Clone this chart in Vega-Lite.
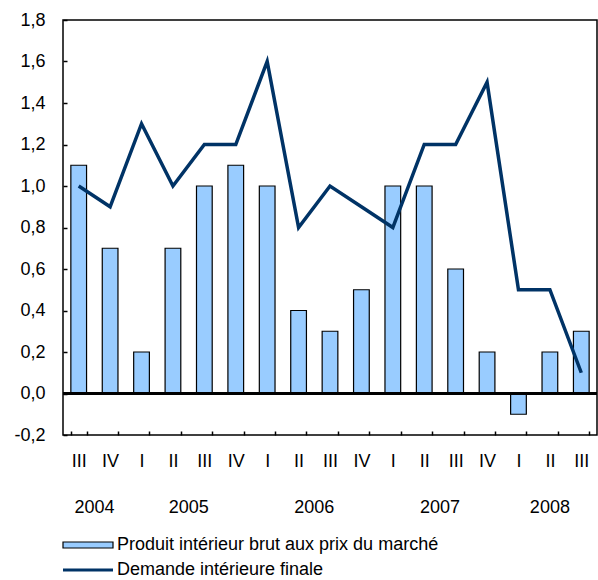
{
  "$schema": "https://vega.github.io/schema/vega-lite/v6.json",
  "autosize": {"type": "none"},
  "width": 534,
  "height": 415,
  "padding": {"left": 63, "top": 20, "right": 1, "bottom": 145},
  "config": {
    "font": "Liberation Sans",
    "view": {"stroke": "#000000", "strokeWidth": 1.5},
    "axis": {"grid": false, "domain": false, "labelFont": "Liberation Sans", "labelFontSize": 18, "labelColor": "#000000", "tickColor": "#000000", "title": null},
    "legend": {"labelFont": "Liberation Sans", "labelFontSize": 18, "labelColor": "#000000", "labelLimit": 0}
  },
  "data": {
    "values": [
      {"p": "2004 III", "gdp": 1.1, "dem": 1.0},
      {"p": "2004 IV", "gdp": 0.7, "dem": 0.9},
      {"p": "2005 I", "gdp": 0.2, "dem": 1.3},
      {"p": "2005 II", "gdp": 0.7, "dem": 1.0},
      {"p": "2005 III", "gdp": 1.0, "dem": 1.2},
      {"p": "2005 IV", "gdp": 1.1, "dem": 1.2},
      {"p": "2006 I", "gdp": 1.0, "dem": 1.6},
      {"p": "2006 II", "gdp": 0.4, "dem": 0.8},
      {"p": "2006 III", "gdp": 0.3, "dem": 1.0},
      {"p": "2006 IV", "gdp": 0.5, "dem": 0.9},
      {"p": "2007 I", "gdp": 1.0, "dem": 0.8},
      {"p": "2007 II", "gdp": 1.0, "dem": 1.2},
      {"p": "2007 III", "gdp": 0.6, "dem": 1.2},
      {"p": "2007 IV", "gdp": 0.2, "dem": 1.5},
      {"p": "2008 I", "gdp": -0.1, "dem": 0.5},
      {"p": "2008 II", "gdp": 0.2, "dem": 0.5},
      {"p": "2008 III", "gdp": 0.3, "dem": 0.1}
    ]
  },
  "resolve": {"axis": {"x": "independent"}},
  "layer": [
    {
      "mark": {"type": "bar", "stroke": "#000000", "strokeWidth": 1.2},
      "encoding": {
        "x": {
          "field": "p", "type": "nominal", "sort": null,
          "scale": {"paddingInner": 0.5, "paddingOuter": 0.25},
          "axis": {"orient": "bottom", "labelExpr": "split(datum.value, ' ')[1]", "labelAngle": 0, "tickBand": "extent", "tickSize": -4, "tickWidth": 1.5, "labelPadding": 21}
        },
        "y": {
          "field": "gdp", "type": "quantitative",
          "scale": {"domain": [-0.2, 1.8], "nice": false},
          "axis": {"values": [-0.2, 0, 0.2, 0.4, 0.6, 0.8, 1.0, 1.2, 1.4, 1.6, 1.8], "labelExpr": "replace(replace(format(datum.value, '.1f'), '.', ','), '\u2212', '-')", "tickSize": -4, "tickWidth": 1.5, "labelPadding": 22}
        },
        "fill": {
          "datum": "Produit intérieur brut aux prix du marché",
          "scale": {"range": ["#99CCFF"]},
          "legend": {"title": null, "orient": "none", "legendX": 16, "legendY": 516, "padding": 0, "symbolType": "M-5,-0.6H5V0.6H-5Z", "symbolSize": 100, "symbolStrokeColor": "#000000", "symbolStrokeWidth": 1.2, "symbolFillColor": "#99CCFF", "labelOffset": 20, "labelLimit": 0}
        }
      }
    },
    {
      "mark": {"type": "rule", "color": "#000000", "strokeWidth": 1.5},
      "encoding": {"y": {"datum": 0}}
    },
    {
      "mark": {"type": "line", "strokeWidth": 3.5, "strokeJoin": "miter"},
      "encoding": {
        "x": {
          "field": "p", "type": "nominal", "sort": null,
          "axis": {
            "orient": "bottom",
            "labelExpr": "indexof(['2004 III','2005 II','2006 II','2007 II','2008 II'], datum.value) >= 0 ? split(datum.value, ' ')[0] : ''",
            "labelAngle": 0, "ticks": false, "labelPadding": 63,
            "labelOffset": {"condition": {"test": "datum.value == '2008 II'", "value": 0}, "value": 15.7}
          }
        },
        "y": {"field": "dem", "type": "quantitative"},
        "stroke": {
          "datum": "Demande intérieure finale",
          "scale": {"range": ["#003366"]},
          "legend": {"title": null, "orient": "none", "legendX": 16, "legendY": 541, "padding": 0, "symbolType": "M-5,0H5", "symbolSize": 100, "symbolStrokeColor": "#003366", "symbolStrokeWidth": 3, "labelOffset": 20, "labelLimit": 0}
        }
      }
    }
  ]
}
